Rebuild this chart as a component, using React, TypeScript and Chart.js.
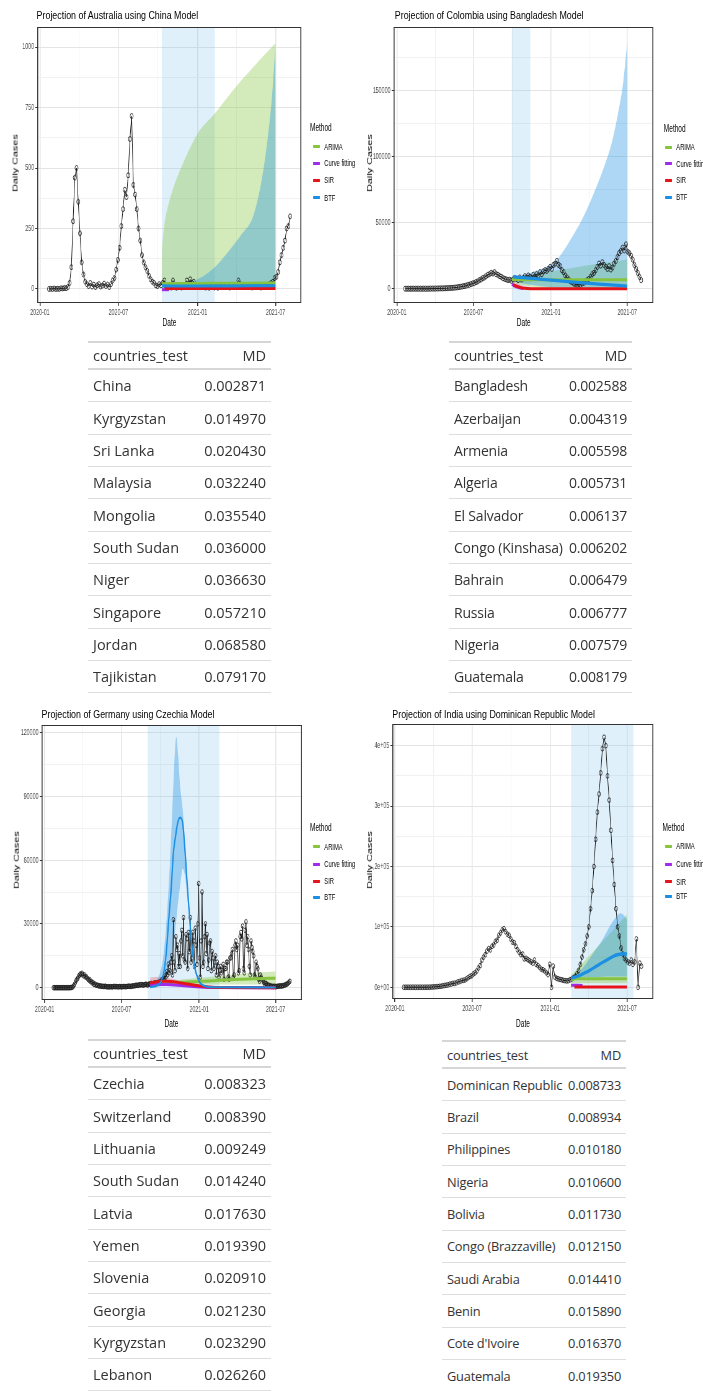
import React, { useEffect, useRef } from 'react';
import { Chart, registerables } from 'chart.js';

Chart.register(...registerables);

const SQUEEZE = 0.62;
const AXIS_FONT = "'Liberation Sans', Arial, Helvetica, sans-serif";
const TABLE_FONT = "'Open Sans', 'Noto Sans', sans-serif";

// ---------------- shared axis values ----------------
const xMajorDays = [0, 182, 366, 547];
const xMajorLabels = ['2020-01', '2020-07', '2021-01', '2021-07'];
const xMinorDays = [91, 274, 456.5];

const methodNames = ['ARIMA', 'Curve fitting', 'SIR', 'BTF'];
const methodColors = ['#86c440', '#a02be8', '#e5141b', '#1c8fe3'];

// ---------------- Australia (China model) ----------------
const auStartDay = 21;
const auStepDays = 4;
const auCases = [
  0, 1, 0, 2, 0, 1, 0, 3, 2, 4,
  3, 8, 25, 90, 280, 460, 500, 360, 230, 110,
  60, 30, 20, 12, 25, 10, 18, 8, 15, 20,
  10, 14, 22, 12, 18, 8, 20, 35, 45, 80,
  120, 170, 260, 330, 410, 380, 470, 620, 715, 430,
  390, 330, 250, 200, 140, 110, 90, 75, 55, 40,
  30, 25, 15, 12, 20, 15, 25, 35, 10, 8,
  12, 6, 35, 10, 5, 8, 12, 6, 10, 15,
  35, 20, 40, 25, 30, 15, 10, 8, 12, 10,
  8, 6, 10, 5, 8, 12, 6, 10, 5, 8,
  10, 12, 8, 15, 10, 6, 12, 8, 10, 15,
  35, 20, 12, 10, 15, 8, 10, 12, 6, 10,
  8, 12, 10, 6, 15, 10, 8, 12, 20, 25,
  30, 45, 50, 70, 110, 140, 170, 200, 250, 260, 300,
];
const auWindow = [283, 406];
const auArimaBandDays = [283, 285, 290, 300, 310, 330, 366, 406, 448, 495, 547];
const auArimaBandLo = [0, 0, 0, 0, 0, 0, 0, 0, 0, 0, 0];
const auArimaBandHi = [150, 200, 280, 360, 420, 510, 642, 725, 821, 917, 1016];
const auBtfBandDays = [283, 320, 366, 406, 440, 470, 495, 515, 530, 540, 547];
const auBtfBandLo = [0, 0, 0, 0, 0, 0, 0, 0, 0, 0, 0];
const auBtfBandHi = [5, 15, 40, 90, 160, 230, 300, 450, 640, 820, 1016];
const auArimaDays = [283, 320, 366, 420, 480, 547];
const auArimaVals = [22, 23, 23, 24, 24, 25];
const auCfDays = [283, 300];
const auCfVals = [-3, -3];
const auSirDays = [290, 547];
const auSirVals = [2, 2];
const auBtfDays = [283, 350, 420, 490, 547];
const auBtfVals = [13, 12, 12, 13, 13];

// ---------------- Colombia (Bangladesh model) ----------------
const coStartDay = 20;
const coStepDays = 4;
const coCases = [
  0, 0, 0, 0, 0, 0, 0, 0, 0, 0,
  0, 0, 2, 10, 30, 60, 90, 100, 120, 150,
  200, 250, 220, 300, 350, 400, 500, 600, 650, 800,
  900, 1100, 1300, 1500, 1800, 2000, 2300, 2800, 3000, 3500,
  4000, 4300, 5000, 5500, 6500, 7000, 8000, 8500, 9500, 10500,
  11000, 12000, 11500, 12500, 11000, 10500, 9500, 9000, 8000, 7500,
  7000, 6500, 6800, 6000, 7000, 8000, 7500, 6500, 8500, 7000,
  8000, 9500, 8500, 10000, 9000, 8000, 10500, 9000, 11000, 10000,
  12500, 11000, 13000, 14000, 13500, 15000, 16500, 15000, 18000, 19000,
  21000, 18000, 17000, 14000, 12500, 10000, 8500, 7000, 5500, 5000,
  4000, 3500, 3000, 3500, 3000, 4000, 4500, 5500, 6500, 7500,
  9000, 11000, 12000, 14000, 16500, 19000, 17500, 20000, 18000, 16500,
  15000, 17000, 14500, 16000, 19000, 21000, 24000, 27000, 28500, 31000,
  29000, 33500, 28000, 27000, 25000, 22000, 18000, 15000, 12000, 9000, 6500,
];
const coWindow = [273, 317];
const coArimaBandDays = [273, 290, 320, 366, 450, 547];
const coArimaBandLo = [5500, 3500, 1500, 500, 0, 0];
const coArimaBandHi = [8500, 9500, 11000, 13000, 17500, 22000];
const coSirBandDays = [276, 290, 310, 330];
const coSirBandLo = [500, 0, 0, 0];
const coSirBandHi = [5500, 3500, 1500, 500];
const coBtfBandDays = [273, 300, 330, 355, 380, 418, 447, 470, 494, 510, 526, 537, 547];
const coBtfBandLo = [6000, 4000, 2500, 1500, 1000, 500, 0, 0, 0, 0, 0, 0, 0];
const coBtfBandHi = [8000, 10000, 13500, 16600, 22000, 40000, 57000, 74000, 94000, 110000, 134000, 155000, 186000];
const coArimaDays = [273, 300, 350, 400, 450, 500, 547];
const coArimaVals = [7000, 6800, 6800, 6700, 6700, 6700, 6700];
const coCfDays = [273, 280, 290, 300];
const coCfVals = [3500, 2000, 800, 200];
const coSirDays = [276, 285, 295, 310, 330, 547];
const coSirVals = [3000, 1800, 800, 200, 0, 0];
const coBtfDays = [276, 320, 366, 420, 480, 547];
const coBtfVals = [9000, 7800, 6500, 5000, 3500, 2000];

// ---------------- Germany (Czechia model) ----------------
const deStartDay = 21;
const deStepDays = 2;
const deCases = [
  0, 0, 0, 0, 0, 0, 0, 0, 0, 0,
  0, 0, 0, 0, 0, 0, 0, 0, 5, 10,
  20, 60, 150, 400, 900, 1600, 2500, 3500, 4000, 4500,
  5500, 6000, 6500, 6200, 6800, 6000, 5500, 6000, 5000, 5200,
  4500, 4000, 3500, 3800, 2800, 3000, 2200, 2400, 1500, 1800,
  1200, 1400, 1000, 1100, 800, 900, 700, 750, 600, 650,
  500, 700, 600, 450, 400, 500, 350, 450, 500, 400,
  400, 550, 600, 450, 550, 500, 450, 400, 500, 550,
  400, 450, 500, 550, 550, 500, 450, 600, 600, 700,
  700, 600, 600, 800, 800, 900, 900, 1000, 1200, 1100,
  1000, 1300, 1400, 1200, 1500, 1400, 1200, 1300, 1400, 1600,
  1600, 1300, 1300, 1700, 1800, 1500, 2000, 1800, 1700, 2100,
  2300, 1800, 1900, 2400, 2500, 2200, 2800, 2600, 3500, 3000,
  4500, 4000, 5500, 5000, 7500, 6000, 11000, 7000, 8000, 12000,
  15000, 6000, 32000, 12000, 8000, 24000, 18000, 20000, 10000, 16000,
  10000, 22000, 27000, 15000, 33000, 13000, 12000, 25000, 23000, 9000,
  26000, 17000, 33000, 12000, 14000, 26000, 22000, 10000, 28000, 20000,
  11000, 30000, 49000, 14000, 5000, 22000, 45000, 10000, 12000, 24000,
  30000, 16000, 25000, 9000, 13000, 21000, 22000, 8000, 17000, 14000,
  9000, 12000, 15000, 6000, 12000, 10000, 5000, 8000, 10000, 7000,
  8000, 11000, 4000, 9000, 9000, 12000, 12000, 5000, 4000, 14000,
  14000, 16000, 18000, 5000, 6000, 20000, 22000, 18000, 20000, 7000,
  8000, 24000, 26000, 23000, 29000, 9000, 7000, 27000, 31000, 20000,
  24000, 18000, 10000, 6000, 22000, 19000, 17000, 15000, 6000, 5000,
  12000, 10000, 9000, 4000, 3000, 6000, 5000, 4000, 3500, 2500,
  1500, 2000, 2000, 1500, 1000, 1200, 800, 900, 600, 700,
  500, 600, 700, 500, 500, 700, 600, 800, 800, 900,
  700, 1000, 900, 1100, 1200, 1500, 1600, 1800, 2200, 2600,
  3000,
];
const deWindow = [244, 414];
const deArimaBandDays = [250, 300, 350, 400, 450, 500, 547];
const deArimaBandLo = [1300, 1400, 1400, 1500, 1500, 1500, 1500];
const deArimaBandHi = [2300, 3300, 4300, 5300, 6200, 7000, 7600];
const deSirBandDays = [250, 270, 290, 310, 330];
const deSirBandLo = [500, 1000, 1500, 1400, 1200];
const deSirBandHi = [4800, 5200, 4800, 3800, 2500];
const deBtfBandDays = [250, 270, 282, 290, 298, 305, 312, 316, 321, 327, 333, 341, 349, 357, 369, 384, 420, 547];
const deBtfBandLo = [0, 500, 2000, 6000, 12000, 20000, 32000, 40000, 48000, 56000, 52000, 36000, 17000, 7000, 1500, 300, 0, 0];
const deBtfBandHi = [1000, 5000, 16000, 35000, 63000, 95000, 118000, 110000, 95000, 84000, 68000, 43000, 22000, 10000, 3000, 1000, 400, 300];
const deArimaDays = [250, 300, 350, 400, 450, 500, 547];
const deArimaVals = [1800, 2300, 2800, 3300, 3800, 4200, 4500];
const deCfDays = [250, 290, 330, 360, 400, 547];
const deCfVals = [1500, 1500, 900, 500, 100, 0];
const deSirDays = [250, 260, 270, 280, 290, 300, 315, 330, 350, 370, 390, 420, 547];
const deSirVals = [2200, 2600, 2900, 3000, 3000, 2900, 2500, 2000, 1400, 800, 300, 50, 0];
const deBtfDays = [250, 270, 282, 288, 294, 300, 305, 310, 315, 321, 327, 333, 337, 341, 345, 349, 353, 357, 363, 369, 380, 400, 547];
const deBtfVals = [300, 1500, 6800, 16000, 31800, 47000, 63200, 71000, 77300, 80000, 77500, 63200, 51000, 39700, 29000, 19300, 13000, 8300, 4500, 2000, 700, 200, 100];

// ---------------- India (Dominican Republic model) ----------------
const inStartDay = 21;
const inStepDays = 4;
const inCases = [
  0, 0, 0, 0, 0, 0, 0, 0, 0, 0,
  0, 5, 20, 60, 80, 100, 250, 500, 700, 900,
  1200, 1500, 1800, 2500, 3000, 3500, 4000, 5000, 5600, 6500,
  6500, 7500, 9000, 9500, 11000, 11500, 12000, 14000, 16000, 18000,
  19000, 22000, 24000, 27000, 32000, 36000, 45000, 50000, 54000, 60000,
  64000, 62000, 68000, 70000, 76000, 78000, 86000, 90000, 95000, 97000,
  92000, 88000, 86000, 80000, 75000, 74000, 68000, 62000, 58000, 54000,
  55000, 47000, 48000, 46000, 44000, 42000, 40000, 45000, 38000, 36000,
  33000, 30000, 29000, 27000, 24000, 21000, 38000, 0, 35000, 17000,
  15000, 14000, 13000, 12500, 11500, 11000, 10500, 11000, 12500, 14000,
  16000, 18000, 22000, 28000, 38000, 50000, 62000, 72000, 85000, 100000,
  130000, 160000, 200000, 245000, 290000, 320000, 355000, 395000, 414000, 400000,
  350000, 310000, 260000, 210000, 170000, 130000, 100000, 85000, 65000, 55000,
  48000, 45000, 42000, 40000, 45000, 38000, 42000, 80000, 0, 40000, 35000,
];
const inWindow = [415, 562];
const inArimaBandDays = [415, 450, 500, 547];
const inArimaBandLo = [7000, 6500, 6500, 6500];
const inArimaBandHi = [20000, 46000, 84000, 120000];
const inBtfBandDays = [415, 440, 467, 490, 506, 520, 531, 540, 547];
const inBtfBandLo = [14000, 16000, 17000, 17500, 18000, 18000, 18000, 18000, 18000];
const inBtfBandHi = [16000, 30000, 56000, 80000, 100500, 115000, 122700, 119000, 112000];
const inArimaDays = [415, 425, 547];
const inArimaVals = [12000, 14000, 14000];
const inCfDays = [415, 442];
const inCfVals = [3500, 3000];
const inSirDays = [423, 547];
const inSirVals = [500, 500];
const inBtfDays = [415, 430, 445, 460, 475, 490, 506, 520, 530, 540, 547];
const inBtfVals = [15000, 18000, 23000, 28500, 35000, 41500, 48000, 53000, 54700, 55500, 55000];

// ---------------- tables ----------------
const t1Countries = ['China', 'Kyrgyzstan', 'Sri Lanka', 'Malaysia', 'Mongolia', 'South Sudan', 'Niger', 'Singapore', 'Jordan', 'Tajikistan'];
const t1MD = [0.002871, 0.01497, 0.02043, 0.03224, 0.03554, 0.036, 0.03663, 0.05721, 0.06858, 0.07917];
const t2Countries = ['Bangladesh', 'Azerbaijan', 'Armenia', 'Algeria', 'El Salvador', 'Congo (Kinshasa)', 'Bahrain', 'Russia', 'Nigeria', 'Guatemala'];
const t2MD = [0.002588, 0.004319, 0.005598, 0.005731, 0.006137, 0.006202, 0.006479, 0.006777, 0.007579, 0.008179];
const t3Countries = ['Czechia', 'Switzerland', 'Lithuania', 'South Sudan', 'Latvia', 'Yemen', 'Slovenia', 'Georgia', 'Kyrgyzstan', 'Lebanon'];
const t3MD = [0.008323, 0.00839, 0.009249, 0.01424, 0.01763, 0.01939, 0.02091, 0.02123, 0.02329, 0.02626];
const t4Countries = ['Dominican Republic', 'Brazil', 'Philippines', 'Nigeria', 'Bolivia', 'Congo (Brazzaville)', 'Saudi Arabia', 'Benin', "Cote d'Ivoire", 'Guatemala'];
const t4MD = [0.008733, 0.008934, 0.01018, 0.0106, 0.01173, 0.01215, 0.01441, 0.01589, 0.01637, 0.01935];

// ---------------- types ----------------
type Band = { days: number[]; lo: number[]; hi: number[] };
type Line = { days: number[]; vals: number[] };
interface PanelSpec {
  title: string;
  originX: number;
  rowTop: number;
  plot: { L: number; T: number; R: number; B: number };
  xMin: number; xMax: number; yMin: number; yMax: number;
  yMajor: number[]; yLabels: string[]; yMinor: number[];
  titlePos: number[]; yTitlePos: number[]; xTitlePos: number[];
  legend: { titleX: number; titleY: number; keyX0: number; keyX1: number; labelX: number; itemYs: number[] };
  window: number[];
  obs: { start: number; step: number; vals: number[] };
  arimaBand: Band; btfBand: Band; sirBand?: Band;
  arima: Line; cf: Line; sir: Line; btf: Line;
  btfWidth: number;
  pointR: number;
}

const panels: PanelSpec[] = [
  {
    title: 'Projection of Australia using China Model',
    originX: 0, rowTop: 0,
    plot: { L: 37.3, T: 26.7, R: 301.7, B: 302.7 },
    xMin: -6.3, xMax: 607, yMin: -58, yMax: 1083,
    yMajor: [0, 250, 500, 750, 1000], yLabels: ['0', '250', '500', '750', '1000'], yMinor: [125, 375, 625, 875],
    titlePos: [36.7, 15], yTitlePos: [15.7, 163], xTitlePos: [169.5, 322],
    legend: { titleX: 310, titleY: 128.3, keyX0: 313, keyX1: 320, labelX: 324, itemYs: [146.7, 163.3, 180, 197.7] },
    window: auWindow,
    obs: { start: auStartDay, step: auStepDays, vals: auCases },
    arimaBand: { days: auArimaBandDays, lo: auArimaBandLo, hi: auArimaBandHi },
    btfBand: { days: auBtfBandDays, lo: auBtfBandLo, hi: auBtfBandHi },
    arima: { days: auArimaDays, vals: auArimaVals },
    cf: { days: auCfDays, vals: auCfVals },
    sir: { days: auSirDays, vals: auSirVals },
    btf: { days: auBtfDays, vals: auBtfVals },
    btfWidth: 3,
    pointR: 2.5,
  },
  {
    title: 'Projection of Colombia using Bangladesh Model',
    originX: 352, rowTop: 0,
    plot: { L: 393.7, T: 26.7, R: 653.7, B: 303 },
    xMin: -7.8, xMax: 609, yMin: -10800, yMax: 197900,
    yMajor: [0, 50000, 100000, 150000], yLabels: ['0', '50000', '100000', '150000'], yMinor: [25000, 75000, 125000, 175000],
    titlePos: [394.7, 15], yTitlePos: [370, 163], xTitlePos: [523.7, 322],
    legend: { titleX: 663.7, titleY: 128.7, keyX0: 665, keyX1: 672, labelX: 676, itemYs: [147, 163.5, 180, 197] },
    window: coWindow,
    obs: { start: coStartDay, step: coStepDays, vals: coCases },
    arimaBand: { days: coArimaBandDays, lo: coArimaBandLo, hi: coArimaBandHi },
    btfBand: { days: coBtfBandDays, lo: coBtfBandLo, hi: coBtfBandHi },
    sirBand: { days: coSirBandDays, lo: coSirBandLo, hi: coSirBandHi },
    arima: { days: coArimaDays, vals: coArimaVals },
    cf: { days: coCfDays, vals: coCfVals },
    sir: { days: coSirDays, vals: coSirVals },
    btf: { days: coBtfDays, vals: coBtfVals },
    btfWidth: 3.2,
    pointR: 2.6,
  },
  {
    title: 'Projection of Germany using Czechia Model',
    originX: 0, rowTop: 695,
    plot: { L: 41.3, T: 725, R: 301.7, B: 1000 },
    xMin: -7.1, xMax: 609.5, yMin: -5790, yMax: 123600,
    yMajor: [0, 30000, 60000, 90000, 120000], yLabels: ['0', '30000', '60000', '90000', '120000'], yMinor: [15000, 45000, 75000, 105000],
    titlePos: [41.7, 714], yTitlePos: [17, 860], xTitlePos: [171.5, 1023],
    legend: { titleX: 310, titleY: 827.7, keyX0: 313, keyX1: 320, labelX: 324, itemYs: [846.7, 864, 881, 897] },
    window: deWindow,
    obs: { start: deStartDay, step: deStepDays, vals: deCases },
    arimaBand: { days: deArimaBandDays, lo: deArimaBandLo, hi: deArimaBandHi },
    btfBand: { days: deBtfBandDays, lo: deBtfBandLo, hi: deBtfBandHi },
    sirBand: { days: deSirBandDays, lo: deSirBandLo, hi: deSirBandHi },
    arima: { days: deArimaDays, vals: deArimaVals },
    cf: { days: deCfDays, vals: deCfVals },
    sir: { days: deSirDays, vals: deSirVals },
    btf: { days: deBtfDays, vals: deBtfVals },
    btfWidth: 2.2,
    pointR: 2.3,
  },
  {
    title: 'Projection of India using Dominican Republic Model',
    originX: 352, rowTop: 695,
    plot: { L: 392.5, T: 724.3, R: 653.7, B: 999 },
    xMin: -6, xMax: 609, yMin: -19400, yMax: 436000,
    yMajor: [0, 100000, 200000, 300000, 400000], yLabels: ['0e+00', '1e+05', '2e+05', '3e+05', '4e+05'], yMinor: [50000, 150000, 250000, 350000],
    titlePos: [392, 714], yTitlePos: [370, 860], xTitlePos: [523, 1023],
    legend: { titleX: 662.7, titleY: 827.7, keyX0: 665, keyX1: 672, labelX: 676, itemYs: [846, 864, 881.7, 896] },
    window: inWindow,
    obs: { start: inStartDay, step: inStepDays, vals: inCases },
    arimaBand: { days: inArimaBandDays, lo: inArimaBandLo, hi: inArimaBandHi },
    btfBand: { days: inBtfBandDays, lo: inBtfBandLo, hi: inBtfBandHi },
    arima: { days: inArimaDays, vals: inArimaVals },
    cf: { days: inCfDays, vals: inCfVals },
    sir: { days: inSirDays, vals: inSirVals },
    btf: { days: inBtfDays, vals: inBtfVals },
    btfWidth: 3.4,
    pointR: 2.4,
  },
];

// ---------------- chart helpers ----------------
const toPts = (days: number[], vals: number[]) => days.map((d, i) => ({ x: d, y: vals[i] }));
const obsPts = (start: number, step: number, vals: number[]) => vals.map((v, i) => ({ x: start + step * i, y: v }));

const decorPlugin = {
  id: 'decor',
  beforeDatasetsDraw(chart: any, _args: any, opts: any) {
    const { ctx, chartArea: ca, scales } = chart;
    const w = opts && opts.window;
    if (!w) return;
    const x0 = scales.x.getPixelForValue(w[0]);
    const x1 = scales.x.getPixelForValue(w[1]);
    ctx.save();
    ctx.fillStyle = 'rgba(130,195,240,0.25)';
    ctx.fillRect(x0, ca.top, x1 - x0, ca.bottom - ca.top);
    ctx.restore();
  },
  afterDraw(chart: any) {
    const { ctx, chartArea: ca } = chart;
    ctx.save();
    ctx.strokeStyle = '#333333';
    ctx.lineWidth = 1;
    ctx.beginPath();
    ctx.moveTo(ca.left, ca.top + 0.5);
    ctx.lineTo(ca.right, ca.top + 0.5);
    ctx.moveTo(ca.left, ca.bottom - 0.5);
    ctx.lineTo(ca.right, ca.bottom - 0.5);
    ctx.stroke();
    ctx.lineWidth = 1.6;
    ctx.beginPath();
    ctx.moveTo(ca.left + 0.8, ca.top);
    ctx.lineTo(ca.left + 0.8, ca.bottom);
    ctx.moveTo(ca.right - 0.8, ca.top);
    ctx.lineTo(ca.right - 0.8, ca.bottom);
    ctx.stroke();
    ctx.restore();
  },
};

function buildConfig(spec: PanelSpec, dims: { yW: number; xH: number; padTop: number; padRight: number }) {
  const ds: any[] = [];
  const addBand = (b: Band, color: string) => {
    ds.push({ data: toPts(b.days, b.lo), borderWidth: 0, borderColor: 'rgba(0,0,0,0)', pointRadius: 0, fill: false, cubicInterpolationMode: 'monotone' });
    ds.push({ data: toPts(b.days, b.hi), borderWidth: 0, borderColor: 'rgba(0,0,0,0)', pointRadius: 0, fill: '-1', backgroundColor: color, cubicInterpolationMode: 'monotone' });
  };
  const addLine = (l: Line, color: string, width: number) => {
    ds.push({ data: toPts(l.days, l.vals), borderColor: color, borderWidth: width, pointRadius: 0, fill: false, cubicInterpolationMode: 'monotone', borderCapStyle: 'butt' });
  };
  addBand(spec.arimaBand, 'rgba(134,196,64,0.36)');
  if (spec.sirBand) addBand(spec.sirBand, 'rgba(229,20,27,0.22)');
  addBand(spec.btfBand, 'rgba(28,143,227,0.36)');
  ds.push({
    data: obsPts(spec.obs.start, spec.obs.step, spec.obs.vals),
    borderColor: '#151515', borderWidth: 1, tension: 0, fill: false,
    pointRadius: spec.pointR, pointBorderWidth: 0.85, pointBorderColor: '#1a1a1a', pointBackgroundColor: 'rgba(0,0,0,0)',
  });
  addLine(spec.arima, methodColors[0], 3);
  addLine(spec.cf, methodColors[1], 3);
  addLine(spec.sir, methodColors[2], 3);
  addLine(spec.btf, methodColors[3], spec.btfWidth);
  ds.forEach((d, i) => { d.order = -i; });

  const tickFont = { family: AXIS_FONT, size: 8.5 };
  const xTicks = [...xMajorDays, ...xMinorDays].filter((v) => v >= spec.xMin && v <= spec.xMax).sort((a, b) => a - b);
  const yTicks = [...spec.yMajor, ...spec.yMinor].filter((v) => v >= spec.yMin && v <= spec.yMax).sort((a, b) => a - b);

  return {
    type: 'line' as const,
    data: { datasets: ds },
    plugins: [decorPlugin],
    options: {
      responsive: false,
      animation: false as const,
      devicePixelRatio: 1,
      events: [],
      layout: { padding: { top: dims.padTop, right: dims.padRight, left: 0, bottom: 0 } },
      plugins: {
        legend: { display: false },
        tooltip: { enabled: false },
        title: { display: false },
        decor: { window: spec.window },
      },
      scales: {
        x: {
          type: 'linear' as const,
          min: spec.xMin,
          max: spec.xMax,
          afterBuildTicks: (sc: any) => { sc.ticks = xTicks.map((v) => ({ value: v })); },
          afterFit: (sc: any) => { sc.height = dims.xH; },
          ticks: {
            autoSkip: false, maxRotation: 0, minRotation: 0, padding: 1.5,
            color: '#4d4d4d', font: tickFont,
            callback: (v: number) => { const i = xMajorDays.indexOf(v); return i >= 0 ? xMajorLabels[i] : ''; },
          },
          grid: {
            color: (c: any) => (c.tick && xMajorDays.includes(c.tick.value) ? '#e4e4e4' : '#f1f1f1'),
            lineWidth: (c: any) => (c.tick && xMajorDays.includes(c.tick.value) ? 1.5 : 1),
            tickLength: 3,
            tickColor: (c: any) => (c.tick && xMajorDays.includes(c.tick.value) ? '#333333' : 'rgba(0,0,0,0)'),
          },
          border: { display: false },
        },
        y: {
          type: 'linear' as const,
          min: spec.yMin,
          max: spec.yMax,
          afterBuildTicks: (sc: any) => { sc.ticks = yTicks.map((v) => ({ value: v })); },
          afterFit: (sc: any) => { sc.width = dims.yW; },
          ticks: {
            autoSkip: false, padding: 2,
            color: '#4d4d4d', font: tickFont,
            callback: (v: number) => { const i = spec.yMajor.indexOf(v); return i >= 0 ? spec.yLabels[i] : ''; },
          },
          grid: {
            color: (c: any) => (c.tick && spec.yMajor.includes(c.tick.value) ? '#e4e4e4' : '#f1f1f1'),
            lineWidth: 1,
            tickLength: 3,
            tickColor: (c: any) => (c.tick && spec.yMajor.includes(c.tick.value) ? '#333333' : 'rgba(0,0,0,0)'),
          },
          border: { display: false },
        },
      },
    },
  };
}

function PanelCanvas({ spec }: { spec: PanelSpec }) {
  const ref = useRef<HTMLCanvasElement | null>(null);
  const dims = { yW: 44, xH: 18, padTop: 12, padRight: 8 };
  const uL = (spec.plot.L - spec.originX) / SQUEEZE;
  const uR = (spec.plot.R - spec.originX) / SQUEEZE;
  const cLeft = uL - dims.yW;
  const cTop = spec.plot.T - spec.rowTop - dims.padTop;
  const cW = Math.round(uR - uL + dims.yW + dims.padRight);
  const cH = Math.round(spec.plot.B - spec.plot.T + dims.padTop + dims.xH);
  useEffect(() => {
    if (!ref.current) return;
    const chart = new Chart(ref.current, buildConfig(spec, dims) as any);
    return () => chart.destroy();
  }, []);
  return (
    <canvas
      ref={ref}
      width={cW}
      height={cH}
      style={{ position: 'absolute', left: cLeft, top: cTop, width: cW, height: cH }}
    />
  );
}

function Panel({ spec }: { spec: PanelSpec }) {
  const ux = (x: number) => (x - spec.originX) / SQUEEZE;
  const uy = (y: number) => y - spec.rowTop;
  const lg = spec.legend;
  const widen = (k: number): React.CSSProperties => ({ display: 'inline-block', transform: `scaleX(${k})`, transformOrigin: '0 50%' });
  return (
    <div
      style={{
        position: 'absolute', left: spec.originX, top: spec.rowTop,
        width: 352 / SQUEEZE, height: 345,
        transform: `scaleX(${SQUEEZE})`, transformOrigin: '0 0',
        fontFamily: AXIS_FONT, color: '#000',
      }}
    >
      <PanelCanvas spec={spec} />
      <div style={{ position: 'absolute', left: ux(spec.titlePos[0]), top: uy(spec.titlePos[1]), transform: 'translateY(-50%)', fontSize: 11, lineHeight: '1', whiteSpace: 'nowrap' }}>
        <span style={widen(1.3)}>{spec.title}</span>
      </div>
      <div style={{ position: 'absolute', left: ux(spec.yTitlePos[0]), top: uy(spec.yTitlePos[1]), transform: 'translate(-50%,-50%) rotate(-90deg)', fontSize: 10.8, lineHeight: '1', whiteSpace: 'nowrap' }}>
        Daily Cases
      </div>
      <div style={{ position: 'absolute', left: ux(spec.xTitlePos[0]), top: uy(spec.xTitlePos[1]), transform: 'translate(-50%,-50%)', fontSize: 10.5, lineHeight: '1', whiteSpace: 'nowrap' }}>
        Date
      </div>
      <div style={{ position: 'absolute', left: ux(lg.titleX), top: uy(lg.titleY), transform: 'translateY(-50%)', fontSize: 10, lineHeight: '1', whiteSpace: 'nowrap' }}>
        <span style={widen(1.05)}>Method</span>
      </div>
      {methodNames.map((name, i) => (
        <React.Fragment key={name}>
          <div style={{ position: 'absolute', left: ux(lg.keyX0), top: uy(lg.itemYs[i]) - 1.5, width: (lg.keyX1 - lg.keyX0) / SQUEEZE, height: 3, background: methodColors[i] }} />
          <div style={{ position: 'absolute', left: ux(lg.labelX), top: uy(lg.itemYs[i]), transform: 'translateY(-50%)', fontSize: 8.4, lineHeight: '1', whiteSpace: 'nowrap' }}>
            <span style={widen(1.12)}>{name}</span>
          </div>
        </React.Fragment>
      ))}
    </div>
  );
}

function MDTable({ left, top, width, names, values, fontSize, spacing }: { left: number; top: number; width: number; names: string[]; values: number[]; fontSize: number; spacing: number }) {
  const rowH = 32.35;
  const cell: React.CSSProperties = { display: 'flex', justifyContent: 'space-between', alignItems: 'center', padding: '0 5px', boxSizing: 'border-box', whiteSpace: 'nowrap' };
  return (
    <div style={{ position: 'absolute', left, top, width, fontFamily: TABLE_FONT, fontSize, letterSpacing: spacing, color: '#333' }}>
      <div style={{ ...cell, height: 29, borderTop: '2px solid #d6d6d6', borderBottom: '2px solid #d6d6d6' }}>
        <span>countries_test</span>
        <span>MD</span>
      </div>
      {names.map((n, i) => (
        <div key={n + i} style={{ ...cell, height: rowH, borderBottom: '1px solid #dedede' }}>
          <span>{n}</span>
          <span>{values[i].toFixed(6)}</span>
        </div>
      ))}
    </div>
  );
}

export default function App() {
  return (
    <div style={{ position: 'absolute', left: 0, top: 0, width: 703, height: 1391, overflow: 'hidden', background: '#ffffff' }}>
      {panels.map((p) => (
        <Panel key={p.title} spec={p} />
      ))}
      <MDTable left={88} top={341} width={183} names={t1Countries} values={t1MD} fontSize={14.5} spacing={0} />
      <MDTable left={449} top={341} width={183} names={t2Countries} values={t2MD} fontSize={14} spacing={-0.2} />
      <MDTable left={88} top={1039} width={183} names={t3Countries} values={t3MD} fontSize={14.5} spacing={0} />
      <MDTable left={442} top={1040} width={184} names={t4Countries} values={t4MD} fontSize={12.8} spacing={-0.2} />
    </div>
  );
}
